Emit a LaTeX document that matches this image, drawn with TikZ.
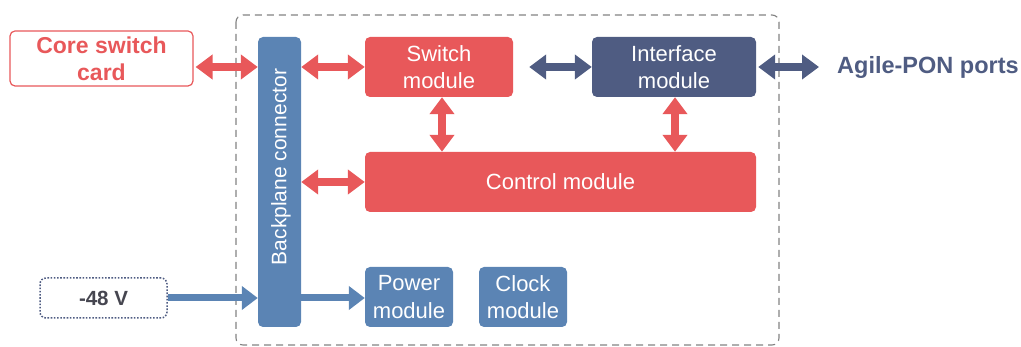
\documentclass[tikz,border=0pt]{standalone}
\usepackage{fontspec}
\setmainfont{Liberation Sans}
\usetikzlibrary{arrows.meta}
\definecolor{cred}{RGB}{232,88,90}
\definecolor{cblue}{RGB}{91,132,180}
\definecolor{cdark}{RGB}{79,92,130}
\definecolor{cgray}{RGB}{130,130,130}
\definecolor{ctext}{RGB}{70,70,80}
\tikzset{
  mod/.style={rounded corners=5pt, inner sep=0pt, align=center, text=white,
    font=\fontsize{22}{27.5}\selectfont},
  redmod/.style={mod, fill=cred},
  bluemod/.style={mod, fill=cblue},
  darkmod/.style={mod, fill=cdark},
  dbl/.style={line width=8pt, {Triangle[length=17pt,width=24pt]}-{Triangle[length=17pt,width=24pt]}},
  sgl/.style={line width=7pt, -{Triangle[length=16pt,width=23pt]}},
}
\begin{document}
\begin{tikzpicture}[x=1pt,y=-1pt]
\useasboundingbox (0,0) rectangle (1021,347);
% dashed enclosure
\draw[cgray, line width=1.1pt, dash pattern=on 7pt off 5pt, rounded corners=7pt] (236,15) rectangle (779,345);

\node[draw=cred, line width=1.2pt, rounded corners=5pt, minimum width=183pt, minimum height=55pt,
      align=center, text=cred, font=\bfseries\fontsize{23}{27}\selectfont, inner sep=0pt]
      (core) at (101.5,58.5) {Core switch\\card};
\node[bluemod, minimum width=43pt, minimum height=290pt] (bp) at (279.5,182) {};
\node[rotate=90, text=white, font=\fontsize{21}{24}\selectfont, inner sep=0pt] (bptext) at (281,167) {Backplane connector};
\node[redmod, minimum width=148pt, minimum height=60pt] (sw) at (439,67) {Switch\\module};
\node[darkmod, minimum width=164pt, minimum height=60pt] (intf) at (674,67) {Interface\\module};
\node[redmod, minimum width=391pt, minimum height=60pt] (ctrl) at (560.5,182) {Control module};
\node[bluemod, minimum width=88pt, minimum height=60pt] (pwr) at (409,297) {Power\\module};
\node[bluemod, minimum width=88pt, minimum height=60pt] (clk) at (523,297) {Clock\\module};
\node[draw=cdark, line width=1.5pt, dash pattern=on 1.6pt off 1.6pt, rounded corners=6pt,
      minimum width=127pt, minimum height=40pt, inner sep=0pt, text=ctext,
      font=\bfseries\fontsize{20.5}{24}\selectfont] (v48) at (103.5,298) {-48 V};
\node[anchor=west, inner sep=0pt, text=cdark, font=\bfseries\fontsize{23.5}{27}\selectfont] (agile) at (837,67) {Agile-PON ports};

% arrows
\draw[dbl, cred] (core.east |- sw.west) ++(2,0) coordinate (a1) -- (bp.west |- sw.west);
\draw[dbl, cred] (bp.east |- sw.west) -- (sw.west);
\draw[dbl, cdark] (sw.east) ++(16,0) -- (intf.west);
\draw[dbl, cdark] (intf.east) ++(2,0) -- ([xshift=-18pt]agile.west);
\draw[dbl, cred] ([xshift=3pt]sw.south) -- ([xshift=3pt]sw.south |- ctrl.north);
\draw[dbl, cred] ([xshift=1pt]intf.south) -- ([xshift=1pt]intf.south |- ctrl.north);
\draw[dbl, cred] (bp.east |- ctrl.west) -- (ctrl.west);
\draw[sgl, cblue] (v48.east) -- (bp.west |- v48.east);
\draw[sgl, cblue] (bp.east |- v48.east) -- (pwr.west |- v48.east);
\end{tikzpicture}
\end{document}
